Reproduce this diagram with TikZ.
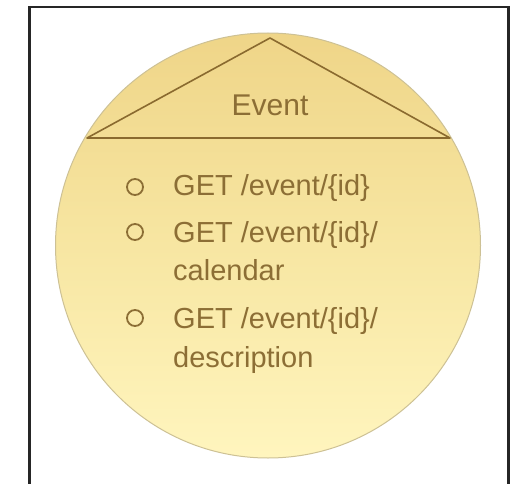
\documentclass[tikz,border=0pt]{standalone}
\usepackage{fontspec}
\setmainfont{Liberation Sans}
\begin{document}
\definecolor{ink}{HTML}{8C6E35}
\definecolor{rim}{HTML}{8A6A2F}
\definecolor{goldtop}{HTML}{EFD588}
\definecolor{goldmid}{HTML}{F7E6A2}
\definecolor{goldbot}{HTML}{FFF5BE}
\definecolor{edge}{HTML}{CDC195}
\definecolor{frame}{HTML}{262626}
\begin{tikzpicture}[x=1pt,y=1pt,
  label/.style={inner sep=0pt, text=ink, font=\fontsize{29}{34}\selectfont},
  bullet/.style={circle, draw=ink, line width=1.8pt, minimum size=16pt, inner sep=0pt},
  roof/.style={draw=rim, line width=1.6pt, line join=round}]
\useasboundingbox (0,0) rectangle (516,483);
% outer frame, running off the bottom edge
\draw[frame, line width=2.6pt] (29.5,-20) -- (29.5,476) -- (508.5,476) -- (508.5,-20);
% the disc with its soft gold shading
\shade[top color=goldtop, bottom color=goldbot, middle color=goldmid]
  (268,237.5) circle[radius=212.5];
\draw[edge, line width=1pt] (268,237.5) circle[radius=212.5];
% roof over the title
\coordinate (apex) at (270,445);
\coordinate (bl) at (87,345);
\coordinate (br) at (450,345);
\draw[roof] (bl) -- (apex) -- (br) -- cycle;
\node[label, anchor=base, font=\fontsize{30}{34}\selectfont] (title) at (270,368) {Event};
% list of endpoints
\node[bullet] (b1) at (135,296) {};
\node[label, anchor=base west] (i1) at (173,288) {GET /event/\{id\}};
\node[bullet] (b2) at (135,251) {};
\node[label, anchor=base west] (i2) at (173,241) {GET /event/\{id\}/};
\node[label, anchor=base west] (i2b) at (173,203) {calendar};
\node[bullet] (b3) at (135,165) {};
\node[label, anchor=base west] (i3) at (173,155) {GET /event/\{id\}/};
\node[label, anchor=base west] (i3b) at (173,116) {description};
\end{tikzpicture}
\end{document}
